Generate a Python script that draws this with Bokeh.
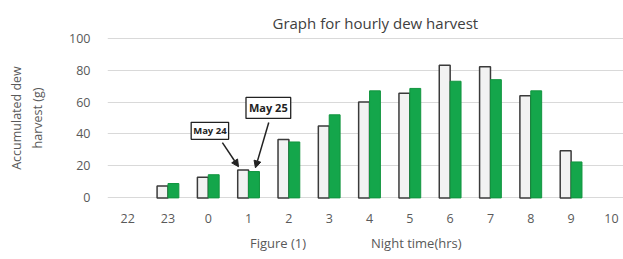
from bokeh.plotting import figure
from bokeh.models import (Range1d, FixedTicker, Label, Arrow, NormalHead,
                          ColumnDataSource, Title)
from bokeh.embed import file_html
from bokeh.resources import INLINE

hours = ["22", "23", "0", "1", "2", "3", "4", "5", "6", "7", "8", "9", "10"]
may24 = [0, 7.5, 13, 17.5, 36.5, 45, 60, 65.5, 83, 82, 64, 29.5, 0]
may25 = [0, 9, 14.5, 16.5, 35, 52, 67, 68.5, 73, 74, 67, 22.5, 0]
y_ticks = [0, 20, 40, 60, 80, 100]

idx = list(range(len(hours)))
bw = 0.27
s24 = ColumnDataSource(dict(x=[i - bw / 2 for i, v in zip(idx, may24) if v > 0],
                            top=[v for v in may24 if v > 0]))
s25 = ColumnDataSource(dict(x=[i + bw / 2 for i, v in zip(idx, may25) if v > 0],
                            top=[v for v in may25 if v > 0]))

GRAY = "#595959"
FONT = "Open Sans"

p = figure(width=623, height=259, output_backend="svg", toolbar_location=None,
           x_range=Range1d(-0.5, 12.3), y_range=Range1d(-1, 101),
           min_border_left=107, min_border_right=0, min_border_top=36,
           min_border_bottom=60)
p.outline_line_color = None

p.title.text = "Graph for hourly dew harvest"
p.title.align = "left"
p.title.offset = 165
p.title.text_font = FONT
p.title.text_font_size = "15px"
p.title.text_font_style = "normal"
p.title.text_color = "#404040"
p.title.standoff = 7

p.vbar(x="x", top="top", width=bw, bottom=0, source=s24,
       fill_color="#f2f2f2", line_color="#3a3a3a", line_width=1.5)
p.vbar(x="x", top="top", width=bw, bottom=0, source=s25,
       fill_color="#14a64b", line_color="#12953f", line_width=1)

p.xgrid.visible = False
p.ygrid.grid_line_color = "#d9d9d9"
p.ygrid.grid_line_width = 1
p.yaxis.ticker = FixedTicker(ticks=y_ticks)
p.xaxis.ticker = FixedTicker(ticks=idx)
p.xaxis.major_label_overrides = {i: h for i, h in zip(idx, hours)}

for ax in (p.xaxis[0], p.yaxis[0]):
    ax.axis_line_color = None
    ax.major_tick_line_color = None
    ax.minor_tick_line_color = None
    ax.major_tick_out = 0
    ax.major_tick_in = 0
    ax.minor_tick_out = 0
    ax.major_label_text_color = GRAY
    ax.major_label_text_font = FONT
    ax.major_label_text_font_size = "12.5px"
    ax.axis_label_text_color = GRAY
    ax.axis_label_text_font = FONT
    ax.axis_label_text_font_style = "normal"
p.yaxis.major_label_standoff = 17
p.xaxis.major_label_standoff = 14

p.yaxis.axis_label = "harvest (g)"
p.yaxis.axis_label_text_font_size = "12.5px"
p.yaxis.axis_label_standoff = 20
p.add_layout(Title(text="Accumulated dew", align="center", offset=8,
                   text_font=FONT, text_font_size="12.5px", text_font_style="normal",
                   text_color=GRAY, standoff=4), "left")

p.xaxis.axis_label = "Figure (1)" + "\u2003" * 5 + "Night time(hrs)" + "\u2002" * 3
p.xaxis.axis_label_text_font_size = "13px"
p.xaxis.axis_label_standoff = 8

# callouts
p.add_layout(Label(x=2.04, y=42, text="May 24", text_align="center",
                   text_baseline="middle", text_font=FONT, text_font_size="9.5px",
                   text_font_style="bold", text_color="#222222",
                   border_line_color="#222222", border_line_width=1.3,
                   background_fill_color="white", padding=2))
p.add_layout(Label(x=3.49, y=56.3, text="May 25", text_align="center",
                   text_baseline="middle", text_font=FONT, text_font_size="11px",
                   text_font_style="bold", text_color="#222222",
                   border_line_color="#222222", border_line_width=1.3,
                   background_fill_color="white", padding=3))
p.add_layout(Arrow(x_start=2.35, y_start=34.6, x_end=2.75, y_end=19.5,
                   line_color="#222222", line_width=1.5,
                   end=NormalHead(size=7, fill_color="#222222", line_color="#222222")))
p.add_layout(Arrow(x_start=3.5, y_start=47.2, x_end=3.17, y_end=18.8,
                   line_color="#222222", line_width=1.5,
                   end=NormalHead(size=7, fill_color="#222222", line_color="#222222")))

open("out.html", "w").write(file_html(p, INLINE))
